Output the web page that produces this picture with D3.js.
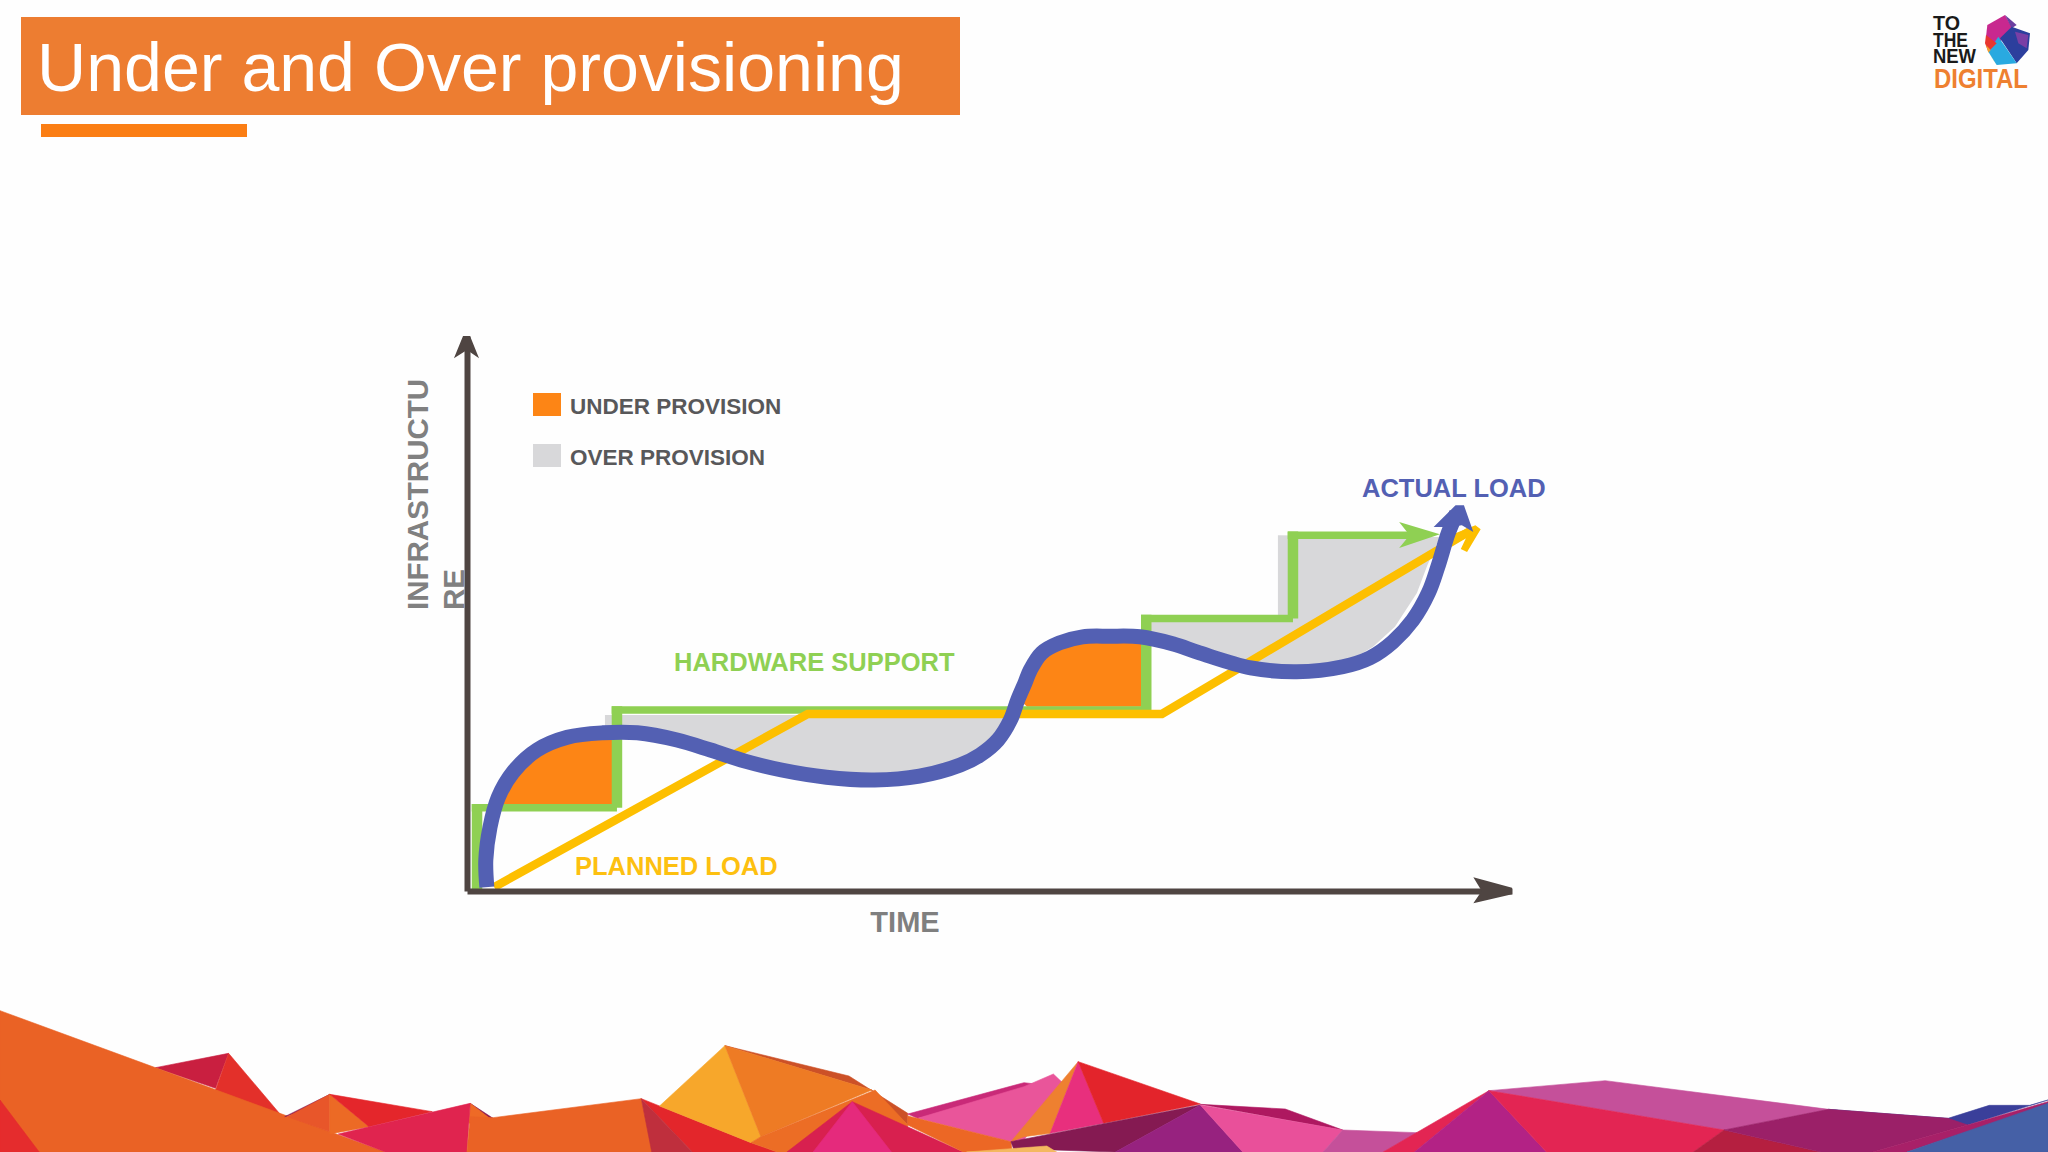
<!DOCTYPE html>
<html>
<head>
	<meta charset="UTF-8">
	<title>Under and Over provisioning</title>
	<script src="https://d3js.org/d3.v7.min.js"></script>
	<style>
		html, body { margin: 0; padding: 0; background: #fefefe; }
		svg { display: block; }
		text { font-family: "Liberation Sans", Arial, sans-serif; }
	</style>
</head>
<body>
	<div id="chart"></div>

	<script>

	// hardware support steps (time, infrastructure, both 0-100)
	var hardwareTime = [0.96, 0.96, 14.35, 14.35, 65.0, 65.0, 79.04, 79.04, 91.2];
	var hardwareLevel = [0, 15.0, 15.0, 32.6, 32.6, 49.1, 49.1, 64.1, 64.1];

	// planned load
	var plannedTime = [2.6, 32.6, 66.5, 96.0];
	var plannedLevel = [0.7, 31.9, 31.9, 64.9];

	// actual load
	var actualTime = [1.9, 1.8, 2.2, 3.0, 4.4, 6.7, 9.6, 13.0, 16.3, 20.1, 23.3, 26.6, 30.1, 34.4, 39.0, 43.3, 47.2, 49.1, 50.8, 52.0, 52.7, 53.4, 53.9, 55.0, 56.7, 58.9, 61.5, 64.4, 67.6, 70.1, 75.0, 79.4, 83.8, 86.4, 88.6, 90.5, 92.0, 92.9, 93.9, 94.7];
	var actualLevel = [0.7, 5.6, 11.5, 16.9, 21.4, 25.4, 27.7, 28.5, 28.5, 27.2, 25.4, 23.4, 21.8, 20.5, 20.0, 20.7, 22.7, 24.5, 27.2, 30.8, 34.4, 37.5, 39.8, 42.9, 44.7, 45.8, 45.9, 45.8, 44.5, 42.9, 40.2, 39.5, 40.4, 42.0, 44.9, 48.8, 53.7, 58.4, 64.5, 68.1];

	// over provision regions
	var overOneTime = [13.2, 52.2, 50.8, 49.1, 47.2, 43.3, 39.0, 34.4, 30.1, 26.6, 23.3, 20.1, 16.3, 13.2];
	var overOneLevel = [31.7, 31.7, 27.2, 24.5, 22.7, 20.7, 20.0, 20.5, 21.8, 23.4, 25.4, 27.2, 28.5, 28.5];
	var overTwoTime = [64.5, 77.6, 77.6, 93.1, 91.9, 90.9, 88.8, 86.7, 83.8, 79.4, 75.0, 70.1, 67.6, 64.5];
	var overTwoLevel = [48.5, 48.5, 64.1, 63.8, 58.7, 53.7, 47.6, 44.0, 40.7, 39.8, 40.7, 43.4, 45.0, 46.1];

	// under provision regions
	var underOneTime = [3.2, 13.9, 13.9, 9.6, 6.7, 4.4, 3.0];
	var underOneLevel = [15.5, 15.5, 28.1, 27.2, 25.0, 20.9, 16.4];
	var underTwoTime = [53.6, 64.5, 64.5, 61.5, 58.9, 56.7, 55.0, 53.9, 53.4, 52.9];
	var underTwoLevel = [33.2, 33.2, 45.2, 45.4, 45.2, 44.1, 42.3, 39.3, 36.9, 34.4];

	// arrow heads at the end of each line
	var actualHead = [[94.6, 69.5], [95.4, 69.5], [96.3, 64.7], [95.2, 65.9], [93.9, 65.6], [92.5, 65.6]];
	var hardwareHead = [[89.2, 66.5], [93.1, 64.3], [89.2, 61.8], [90.2, 64.1]];
	var plannedHead = [[96.5, 65.9], [97.0, 65.2], [95.7, 61.1], [95.1, 61.6], [95.6, 63.6], [94.3, 62.3], [94.1, 64.1]];
	var timeHead = [[100, 0.6], [96.3, 2.5], [97.1, 0], [96.3, -2.2], [100, -0.6]];
	var infraHead = [[-0.38, 100], [0.29, 100], [1.15, 96.0], [0, 97.5], [-1.25, 96.0]];

	var legendLabels = ["UNDER PROVISION", "OVER PROVISION"];
	var legendColors = ["#fd8515", "#d8d8da"];
	var titleText = "Under and Over provisioning";

	// polygons of the footer artwork, back to front
	var footerShapes = [
		["#c91f40", [[238,233],[350,190],[330,295]]],
		["#e3302a", [[350,190],[430,375],[440,400],[330,300]]],
		["#ea6225", [[0,62],[590,486],[0,486]]],
		["#e52c2d", [[0,330],[60,486],[0,486]]],
		["#8c1a50", [[436,380],[505,313],[470,360]]],
		["#e8562a", [[440,380],[505,313],[505,425]]],
		["#ec6a25", [[505,313],[565,410],[505,432]]],
		["#e4262b", [[505,313],[662,365],[565,410]]],
		["#8c1a50", [[720,340],[755,385],[745,385]]],
		["#ee6a26", [[720,340],[750,385],[718,400]]],
		["#e0244f", [[518,432],[720,340],[715,486],[590,486]]],
		["#ea6225", [[755,383],[982,326],[1000,486],[715,486],[720,380]]],
		["#e3262b", [[982,326],[1150,458],[1190,486],[1060,486]]],
		["#bf2f3d", [[982,326],[1060,486],[998,486]]],
		["#f7a72b", [[1110,167],[1165,440],[1150,458],[1010,348]]],
		["#cc5127", [[1110,167],[1300,258],[1390,370],[1390,405],[1335,300]]],
		["#ee7b24", [[1110,167],[1335,300],[1165,440]]],
		["#c92a78", [[1390,372],[1568,278],[1620,290],[1405,385]]],
		["#e9559a", [[1405,385],[1568,290],[1613,252],[1628,280],[1568,450],[1548,455]]],
		["#ec6d25", [[1150,458],[1165,440],[1340,300],[1390,405],[1390,486],[1190,486]]],
		["#d8204f", [[1305,335],[1475,486],[1205,486]]],
		["#e52a7c", [[1305,335],[1365,486],[1245,486]]],
		["#ec6725", [[1390,378],[1548,455],[1550,486],[1475,486],[1390,405]]],
		["#ee8030", [[1651,215],[1548,455],[1568,440],[1608,430]]],
		["#e82f7d", [[1651,215],[1690,400],[1608,430]]],
		["#e3242b", [[1651,215],[1838,342],[1690,400]]],
		["#851a52", [[1548,455],[1838,345],[1708,486],[1552,476]]],
		["#f4b860", [[1480,486],[1603,468],[1618,486]]],
		["#97227f", [[1838,345],[1903,486],[1708,486]]],
		["#ae1860", [[1838,343],[1968,357],[2056,420]]],
		["#e9509a", [[1838,345],[2056,420],[2026,486],[1903,486]]],
		["#c5509a", [[2056,420],[2170,428],[2118,486],[2026,486]]],
		["#e32553", [[2280,302],[2166,486],[2118,486]]],
		["#b32285", [[2280,302],[2368,486],[2166,486]]],
		["#c5509a", [[2280,302],[2458,272],[2800,358],[2640,420]]],
		["#e32553", [[2280,302],[2640,420],[2593,486],[2368,486]]],
		["#b51f40", [[2640,420],[2788,486],[2593,486]]],
		["#3a3f9a", [[2800,358],[2983,385],[3046,346],[3108,346],[3136,330],[3013,405]]],
		["#9b2068", [[2640,420],[2800,358],[2983,385],[3013,405],[2868,486],[2788,486]]],
		["#a82068", [[3013,405],[3136,335],[3136,345],[2920,486],[2868,486]]],
		["#4560a6", [[2920,486],[3136,340],[3136,486]]]
	];

	// facets of the logo gem
	var logoShapes = [
		["#c8288f", [[262,75],[315,45],[335,80],[290,140],[258,110]]],
		["#6b3fa0", [[315,45],[350,75],[335,85]]],
		["#2c3f9d", [[335,80],[390,100],[385,150],[350,190],[300,115]]],
		["#7a3fa5", [[345,95],[385,105],[380,145],[355,130]]],
		["#29a9e0", [[295,110],[350,190],[290,195],[265,155]]],
		["#e8362f", [[258,105],[290,130],[265,155],[255,130]]],
		["#f0a030", [[258,135],[272,150],[265,158]]],
		["#7ab648", [[265,155],[280,180],[290,195]]]
	];

	var width = 2048, height = 1152;

	var svg = d3.select("#chart").append("svg")
		.attr("width", width)
		.attr("height", height);

	// scales of the plot
	var x = d3.scaleLinear().domain([0, 100]).range([467, 1512]);
	var y = d3.scaleLinear().domain([0, 100]).range([891, 336]);

	var plotLine = d3.line().x(function(d) { return x(d[0]); }).y(function(d) { return y(d[1]); });
	var curveLine = d3.line().x(function(d) { return x(d[0]); }).y(function(d) { return y(d[1]); })
		.curve(d3.curveCatmullRom.alpha(0.5));

	// footer artwork
	var footerX = d3.scaleLinear().domain([0, 3136]).range([0, 2048]);
	var footerY = d3.scaleLinear().domain([0, 486]).range([990, 1152]);
	var footerLine = d3.line().x(function(d) { return footerX(d[0]); }).y(function(d) { return footerY(d[1]); });

	svg.append("g").selectAll("path").data(footerShapes).join("path")
		.attr("d", function(d) { return footerLine(d[1]) + "Z"; })
		.attr("fill", function(d) { return d[0]; })
		.attr("stroke", function(d) { return d[0]; })
		.attr("stroke-width", 0.6);

	// title banner
	svg.append("rect").attr("x", 21).attr("y", 17).attr("width", 939).attr("height", 98).attr("fill", "#ed7d31");
	svg.append("rect").attr("x", 41).attr("y", 124).attr("width", 206).attr("height", 13).attr("fill", "#fb7e14");
	svg.append("text").attr("x", 37).attr("y", 91)
		.attr("font-size", 68.1)
		.attr("fill", "#ffffff")
		.text(titleText);

	// logo
	var logo = svg.append("g");
	var logoX = d3.scaleLinear().domain([0, 444]).range([1900, 2048]);
	var logoY = d3.scaleLinear().domain([0, 330]).range([0, 110]);
	var logoLine = d3.line().x(function(d) { return logoX(d[0]); }).y(function(d) { return logoY(d[1]); });
	logo.selectAll("path").data(logoShapes).join("path")
		.attr("d", function(d) { return logoLine(d[1]) + "Z"; })
		.attr("fill", function(d) { return d[0]; });
	[["TO", 30, 21, 27], ["THE", 47, 21, 35], ["NEW", 63, 21, 43]].forEach(function(t) {
		logo.append("text").attr("x", 1933).attr("y", t[1])
			.attr("font-size", t[2]).attr("font-weight", "bold").attr("fill", "#1a1a1a")
			.attr("textLength", t[3]).attr("lengthAdjust", "spacingAndGlyphs")
			.text(t[0]);
	});
	logo.append("text").attr("x", 1934).attr("y", 88)
		.attr("font-size", 27).attr("font-weight", "bold").attr("fill", "#ee8030")
		.attr("textLength", 94).attr("lengthAdjust", "spacingAndGlyphs")
		.text("DIGITAL");

	// axis titles sit behind the axes
	var infraTitle = svg.append("text")
		.attr("transform", "translate(428,610) rotate(-90)")
		.attr("font-size", 29.5).attr("font-weight", "bold").attr("fill", "#808080");
	infraTitle.append("tspan").attr("x", 0).attr("y", 0).text("INFRASTRUCTU");
	infraTitle.append("tspan").attr("x", 0).attr("y", 36).text("RE");

	svg.append("text").attr("x", 905).attr("y", 932)
		.attr("text-anchor", "middle")
		.attr("font-size", 29).attr("font-weight", "bold").attr("fill", "#7f7f7f")
		.text("TIME");

	// regions
	[[overOneTime, overOneLevel], [overTwoTime, overTwoLevel]].forEach(function(r) {
		svg.append("path").attr("d", plotLine(d3.zip(r[0], r[1])) + "Z").attr("fill", legendColors[1]);
	});
	[[underOneTime, underOneLevel], [underTwoTime, underTwoLevel]].forEach(function(r) {
		svg.append("path").attr("d", plotLine(d3.zip(r[0], r[1])) + "Z").attr("fill", legendColors[0]);
	});

	// hardware support, the risers are drawn heavier than the treads
	var hardwarePoints = d3.zip(hardwareTime, hardwareLevel);
	var riserWidth = 10.5, treadWidth = 7.5;
	svg.append("g").selectAll("line").data(d3.pairs(hardwarePoints)).join("line")
		.attr("x1", function(d) { return x(d[0][0]) - (d[0][1] == d[1][1] ? riserWidth / 2 : 0); })
		.attr("x2", function(d) { return x(d[1][0]); })
		.attr("y1", function(d) { return y(d[0][1]); })
		.attr("y2", function(d) { return y(d[1][1]) - (d[0][1] == d[1][1] ? 0 : treadWidth / 2); })
		.attr("stroke", "#8fd053")
		.attr("stroke-width", function(d) { return d[0][1] == d[1][1] ? treadWidth : riserWidth; });
	svg.append("path").attr("d", plotLine(hardwareHead) + "Z").attr("fill", "#8fd053");

	// planned load
	svg.append("path")
		.attr("d", plotLine(d3.zip(plannedTime, plannedLevel)))
		.attr("fill", "none").attr("stroke", "#fdbf00").attr("stroke-width", 8.5);
	svg.append("path").attr("d", plotLine(plannedHead) + "Z").attr("fill", "#fdbf00");

	// axes, the ticks are left out
	var xAxis = svg.append("g").attr("transform", "translate(0," + y(0) + ")")
		.call(d3.axisBottom(x).tickValues([]).tickSizeOuter(0));
	var yAxis = svg.append("g").attr("transform", "translate(" + x(0) + ",0)")
		.call(d3.axisLeft(y).tickValues([]).tickSizeOuter(0));
	xAxis.select(".domain").attr("stroke", "#4f4542").attr("stroke-width", 6);
	yAxis.select(".domain").attr("stroke", "#4f4542").attr("stroke-width", 6);
	[timeHead, infraHead].forEach(function(h) {
		svg.append("path").attr("d", plotLine(h) + "Z").attr("fill", "#4f4542");
	});

	// actual load
	svg.append("path")
		.attr("d", curveLine(d3.zip(actualTime, actualLevel)))
		.attr("fill", "none").attr("stroke", "#5360b3").attr("stroke-width", 15);
	svg.append("path").attr("d", plotLine(actualHead) + "Z").attr("fill", "#5360b3");

	// legend
	var legend = svg.append("g").selectAll("g").data(legendLabels).join("g")
		.attr("transform", function(d, i) { return "translate(533," + (393 + i * 51) + ")"; });
	legend.append("rect").attr("width", 28).attr("height", 23)
		.attr("fill", function(d, i) { return legendColors[i]; });
	legend.append("text").attr("x", 37).attr("y", 20.5)
		.attr("font-size", 22.5).attr("font-weight", "bold").attr("fill", "#58585a")
		.text(function(d) { return d; });

	// line labels
	svg.append("text").attr("x", 674).attr("y", 671)
		.attr("font-size", 25.5).attr("font-weight", "bold").attr("fill", "#8fd053").text("HARDWARE SUPPORT");
	svg.append("text").attr("x", 575).attr("y", 875)
		.attr("font-size", 25.5).attr("font-weight", "bold").attr("fill", "#fdc010").text("PLANNED LOAD");
	svg.append("text").attr("x", 1362).attr("y", 497)
		.attr("font-size", 25.5).attr("font-weight", "bold").attr("fill", "#5360b3").text("ACTUAL LOAD");

	</script>
</body>
</html>
